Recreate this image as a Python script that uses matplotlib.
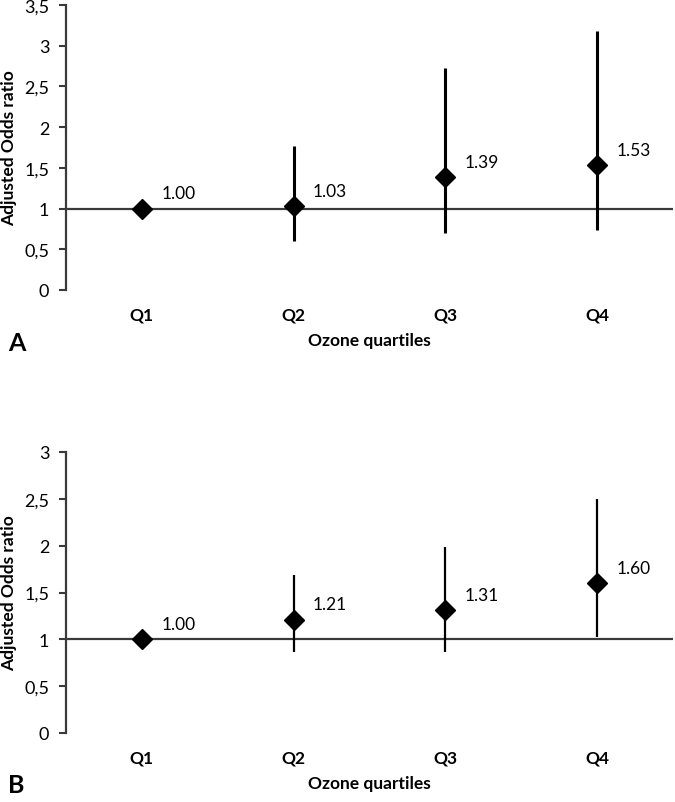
import numpy as np
import matplotlib
matplotlib.use("Agg")
import matplotlib.pyplot as plt

plt.rcParams['font.family'] = ['Lato', 'DejaVu Sans']

CATS = ['Q1', 'Q2', 'Q3', 'Q4']

# panel A
OR_A = [1.00, 1.03, 1.39, 1.53]
LO_A = [1.00, 0.60, 0.705, 0.735]
HI_A = [1.00, 1.77, 2.73, 3.18]

# panel B
OR_B = [1.00, 1.21, 1.31, 1.60]
LO_B = [1.00, 0.87, 0.86, 1.02]
HI_B = [1.00, 1.69, 1.99, 2.50]


def draw_panel(ax, orv, lo, hi, ymax, letter, lw):
    x = np.arange(len(CATS)) + 0.5
    ax.axhline(1, color='#3a3a3a', lw=1.6, zorder=1)
    ax.vlines(x, lo, hi, color='black', lw=lw, zorder=2)
    ax.plot(x, orv, 'D', color='black', ms=10, zorder=3)
    for xi, v in zip(x, orv):
        ax.annotate('%.2f' % v, (xi, v), xytext=(14, 11), textcoords='offset points',
                    fontsize=12.5, ha='left', va='center')
    ax.set_xlim(0, 4)
    ax.set_ylim(0, ymax)
    ticks = np.arange(0, ymax + 0.01, 0.5)
    ax.set_yticks(ticks)
    ax.set_yticklabels([('%g' % t).replace('.', ',') for t in ticks], fontsize=13)
    ax.set_xticks(x)
    ax.set_xticklabels(CATS, fontsize=12.5, fontweight='bold')
    ax.tick_params(axis='x', length=0, pad=12)
    ax.tick_params(axis='y', length=5, width=1.5, color='#3a3a3a', pad=7)
    for s in ['top', 'right', 'bottom']:
        ax.spines[s].set_visible(False)
    ax.spines['left'].set_color('#3a3a3a')
    ax.spines['left'].set_linewidth(1.6)
    ax.set_ylabel('Adjusted Odds ratio', fontsize=12.5, fontweight='bold', labelpad=5)
    ax.set_xlabel('Ozone quartiles', fontsize=12.5, fontweight='bold', labelpad=7)
    ax.text(-0.096, -0.185, letter, transform=ax.transAxes, fontsize=18, fontweight='bold',
            ha='left', va='center')


fig = plt.figure(figsize=(6.75, 8.03), dpi=100)
W, H = 675.0, 803.0
axA = fig.add_axes([66 / W, 1 - 291 / H, 607 / W, 285 / H])
axB = fig.add_axes([66 / W, 1 - 734 / H, 607 / W, 281 / H])

draw_panel(axA, OR_A, LO_A, HI_A, 3.5, 'A', 2.2)
draw_panel(axB, OR_B, LO_B, HI_B, 3.0, 'B', 1.6)

fig.savefig('out.png', dpi=100)
